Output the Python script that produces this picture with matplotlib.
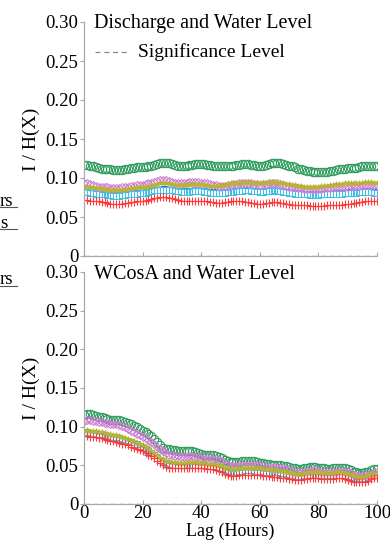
import matplotlib
matplotlib.use("Agg")
import matplotlib.pyplot as plt
from matplotlib.lines import Line2D
import numpy as np

plt.rcParams['font.family'] = ['Liberation Serif', 'DejaVu Serif']
plt.rcParams['mathtext.fontset'] = 'stix'

lag = list(range(0, 101))

# ---- Top panel: Discharge and Water Level ----
top_green = [0.117,0.117,0.116,0.115,0.114,0.113,0.112,0.112,0.111,0.111,0.110,0.110,0.110,0.110,0.111,0.112,0.113,0.113,0.114,0.114,
             0.114,0.114,0.115,0.116,0.117,0.118,0.119,0.119,0.119,0.119,0.118,0.117,0.116,0.116,0.116,0.116,0.117,0.117,0.118,0.118,
             0.118,0.118,0.117,0.117,0.116,0.115,0.115,0.115,0.115,0.115,0.116,0.116,0.117,0.117,0.118,0.118,0.118,0.117,0.117,0.116,
             0.116,0.116,0.117,0.118,0.119,0.119,0.119,0.119,0.118,0.117,0.116,0.115,0.114,0.112,0.111,0.110,0.109,0.109,0.108,0.108,
             0.108,0.108,0.108,0.108,0.109,0.109,0.110,0.111,0.112,0.112,0.113,0.113,0.113,0.113,0.114,0.115,0.116,0.116,0.116,0.116,0.115]
top_magenta = [0.093,0.093,0.092,0.091,0.090,0.089,0.089,0.088,0.088,0.087,0.087,0.087,0.087,0.088,0.088,0.089,0.090,0.090,0.091,0.091,
               0.091,0.092,0.093,0.094,0.095,0.096,0.097,0.097,0.097,0.096,0.095,0.094,0.094,0.093,0.094,0.094,0.095,0.095,0.095,0.095,
               0.094,0.094,0.093,0.092,0.091,0.091,0.090,0.090,0.090,0.091,0.091,0.092,0.092,0.093,0.093,0.093,0.093,0.093,0.092,0.092,
               0.091,0.092,0.092,0.093,0.093,0.093,0.093,0.092,0.091,0.090,0.089,0.089,0.088,0.087,0.087,0.086,0.086,0.086,0.086,0.086,
               0.086,0.086,0.087,0.087,0.087,0.088,0.088,0.088,0.089,0.089,0.089,0.090,0.090,0.090,0.090,0.091,0.091,0.091,0.091,0.091,0.091]
top_olive = [0.089,0.089,0.088,0.088,0.087,0.087,0.086,0.086,0.085,0.085,0.085,0.085,0.085,0.085,0.086,0.086,0.087,0.087,0.088,0.088,
             0.088,0.089,0.089,0.090,0.091,0.092,0.093,0.093,0.093,0.093,0.092,0.091,0.091,0.091,0.091,0.091,0.092,0.092,0.092,0.092,
             0.092,0.091,0.091,0.090,0.090,0.090,0.090,0.091,0.091,0.092,0.093,0.093,0.094,0.094,0.094,0.095,0.095,0.094,0.094,0.094,
             0.094,0.094,0.094,0.095,0.095,0.095,0.094,0.094,0.093,0.092,0.092,0.091,0.091,0.090,0.090,0.089,0.089,0.089,0.089,0.089,
             0.089,0.090,0.090,0.090,0.091,0.091,0.092,0.092,0.092,0.093,0.093,0.093,0.093,0.094,0.094,0.094,0.095,0.095,0.095,0.094,0.094]
top_blue = [0.085,0.085,0.084,0.084,0.083,0.083,0.082,0.082,0.081,0.081,0.081,0.081,0.081,0.081,0.082,0.082,0.083,0.083,0.084,0.084,
            0.084,0.085,0.085,0.086,0.087,0.088,0.088,0.089,0.089,0.088,0.088,0.087,0.086,0.086,0.086,0.086,0.086,0.087,0.087,0.087,
            0.087,0.086,0.086,0.085,0.085,0.085,0.084,0.084,0.085,0.085,0.085,0.086,0.086,0.087,0.087,0.087,0.087,0.087,0.086,0.086,
            0.086,0.086,0.086,0.087,0.087,0.087,0.087,0.086,0.086,0.085,0.085,0.084,0.084,0.083,0.083,0.083,0.082,0.082,0.082,0.082,
            0.082,0.082,0.083,0.083,0.083,0.083,0.084,0.084,0.084,0.084,0.085,0.085,0.085,0.085,0.085,0.086,0.086,0.086,0.086,0.085,0.085]
top_cyan = [0.082,0.082,0.081,0.081,0.080,0.080,0.079,0.079,0.078,0.078,0.077,0.077,0.077,0.078,0.078,0.079,0.079,0.080,0.080,0.081,
            0.081,0.081,0.082,0.083,0.084,0.084,0.085,0.085,0.085,0.085,0.084,0.083,0.083,0.082,0.082,0.082,0.082,0.083,0.083,0.083,
            0.083,0.082,0.082,0.081,0.081,0.081,0.081,0.081,0.081,0.082,0.082,0.082,0.083,0.083,0.083,0.084,0.084,0.083,0.083,0.083,
            0.082,0.082,0.083,0.083,0.083,0.084,0.083,0.083,0.082,0.082,0.081,0.081,0.080,0.080,0.079,0.079,0.079,0.078,0.078,0.078,
            0.078,0.079,0.079,0.079,0.079,0.080,0.080,0.080,0.080,0.081,0.081,0.081,0.081,0.081,0.082,0.082,0.082,0.082,0.082,0.081,0.081]
top_red = [0.072,0.072,0.071,0.071,0.070,0.070,0.069,0.069,0.068,0.067,0.067,0.067,0.067,0.067,0.068,0.068,0.069,0.069,0.070,0.070,
           0.070,0.071,0.072,0.073,0.074,0.075,0.076,0.076,0.076,0.075,0.074,0.073,0.072,0.071,0.071,0.071,0.071,0.071,0.071,0.071,
           0.070,0.070,0.070,0.069,0.069,0.068,0.068,0.068,0.069,0.069,0.070,0.070,0.070,0.070,0.070,0.069,0.069,0.068,0.068,0.067,
           0.067,0.067,0.068,0.068,0.069,0.069,0.069,0.068,0.068,0.067,0.067,0.066,0.066,0.066,0.065,0.065,0.065,0.064,0.064,0.064,
           0.064,0.064,0.064,0.065,0.065,0.065,0.066,0.066,0.066,0.067,0.067,0.067,0.068,0.068,0.069,0.069,0.070,0.070,0.071,0.071,0.070]

# ---- Bottom panel: WCosA and Water Level ----
bot_green = [0.115,0.116,0.116,0.115,0.114,0.113,0.112,0.111,0.110,0.109,0.108,0.108,0.108,0.107,0.106,0.105,0.103,0.101,0.099,0.097,
             0.095,0.093,0.091,0.088,0.084,0.080,0.076,0.073,0.071,0.071,0.070,0.070,0.069,0.069,0.069,0.069,0.068,0.068,0.067,0.066,
             0.065,0.064,0.064,0.063,0.063,0.062,0.061,0.059,0.057,0.055,0.054,0.054,0.054,0.054,0.055,0.055,0.055,0.056,0.055,0.054,
             0.053,0.053,0.052,0.052,0.051,0.051,0.050,0.050,0.049,0.049,0.048,0.047,0.046,0.045,0.045,0.046,0.047,0.048,0.048,0.048,
             0.047,0.046,0.046,0.045,0.045,0.046,0.046,0.047,0.047,0.046,0.045,0.044,0.042,0.041,0.040,0.040,0.041,0.042,0.044,0.045,0.045]
bot_magenta = [0.107,0.108,0.108,0.107,0.107,0.106,0.106,0.105,0.105,0.104,0.103,0.103,0.102,0.101,0.099,0.097,0.095,0.093,0.091,0.089,
               0.087,0.085,0.083,0.080,0.077,0.074,0.071,0.068,0.066,0.064,0.063,0.062,0.062,0.061,0.061,0.061,0.062,0.062,0.061,0.061,
               0.060,0.060,0.059,0.059,0.058,0.058,0.057,0.055,0.052,0.050,0.049,0.049,0.049,0.050,0.050,0.051,0.051,0.051,0.050,0.050,
               0.049,0.049,0.048,0.048,0.047,0.047,0.047,0.046,0.046,0.045,0.044,0.043,0.042,0.041,0.041,0.042,0.043,0.043,0.044,0.044,
               0.043,0.042,0.042,0.041,0.041,0.042,0.042,0.043,0.043,0.042,0.041,0.040,0.038,0.037,0.036,0.036,0.037,0.038,0.039,0.040,0.041]
bot_olive = [0.095,0.096,0.095,0.095,0.094,0.093,0.093,0.092,0.091,0.090,0.089,0.089,0.088,0.087,0.085,0.084,0.082,0.081,0.079,0.078,
             0.076,0.074,0.072,0.069,0.066,0.063,0.060,0.058,0.056,0.055,0.054,0.054,0.053,0.053,0.053,0.053,0.054,0.054,0.054,0.053,
             0.053,0.053,0.052,0.052,0.052,0.051,0.050,0.049,0.047,0.046,0.045,0.045,0.045,0.046,0.046,0.047,0.047,0.047,0.046,0.046,
             0.046,0.045,0.045,0.045,0.044,0.044,0.044,0.043,0.043,0.042,0.041,0.040,0.039,0.039,0.039,0.040,0.040,0.041,0.041,0.041,
             0.041,0.040,0.040,0.040,0.040,0.040,0.041,0.041,0.041,0.040,0.039,0.038,0.037,0.036,0.035,0.035,0.036,0.037,0.038,0.039,0.040]
bot_blue = [0.094,0.094,0.093,0.093,0.092,0.091,0.091,0.090,0.089,0.088,0.088,0.087,0.086,0.085,0.084,0.082,0.081,0.079,0.078,0.076,
            0.074,0.072,0.070,0.067,0.064,0.061,0.058,0.056,0.054,0.053,0.052,0.052,0.051,0.051,0.051,0.051,0.052,0.052,0.052,0.051,
            0.051,0.051,0.050,0.050,0.050,0.049,0.048,0.047,0.045,0.044,0.043,0.043,0.043,0.044,0.044,0.045,0.045,0.045,0.044,0.044,
            0.044,0.043,0.043,0.043,0.042,0.042,0.042,0.041,0.041,0.040,0.039,0.038,0.037,0.037,0.037,0.038,0.038,0.039,0.039,0.039,
            0.039,0.038,0.038,0.038,0.038,0.038,0.039,0.039,0.039,0.038,0.037,0.036,0.035,0.034,0.034,0.034,0.035,0.036,0.037,0.038,0.039]
bot_cyan = [0.093,0.093,0.092,0.092,0.091,0.090,0.090,0.089,0.088,0.087,0.087,0.086,0.085,0.084,0.083,0.081,0.080,0.078,0.077,0.075,
            0.073,0.071,0.069,0.066,0.063,0.060,0.057,0.055,0.053,0.052,0.051,0.051,0.050,0.050,0.050,0.050,0.051,0.051,0.051,0.050,
            0.050,0.050,0.049,0.049,0.049,0.048,0.047,0.046,0.044,0.043,0.042,0.042,0.042,0.043,0.043,0.044,0.044,0.044,0.043,0.043,
            0.043,0.042,0.042,0.042,0.041,0.041,0.041,0.040,0.040,0.039,0.038,0.037,0.036,0.036,0.036,0.037,0.037,0.038,0.038,0.038,
            0.038,0.037,0.037,0.037,0.037,0.037,0.038,0.038,0.038,0.037,0.036,0.035,0.034,0.033,0.033,0.033,0.034,0.035,0.036,0.037,0.038]
bot_red = [0.088,0.088,0.087,0.087,0.086,0.085,0.085,0.084,0.083,0.082,0.081,0.080,0.079,0.078,0.077,0.076,0.074,0.073,0.071,0.070,
           0.068,0.066,0.064,0.062,0.059,0.056,0.053,0.050,0.048,0.047,0.046,0.046,0.046,0.046,0.046,0.047,0.047,0.047,0.047,0.046,
           0.046,0.046,0.045,0.045,0.045,0.044,0.043,0.041,0.039,0.037,0.036,0.036,0.036,0.037,0.037,0.038,0.038,0.038,0.037,0.037,
           0.037,0.036,0.036,0.036,0.035,0.035,0.035,0.034,0.034,0.033,0.032,0.032,0.031,0.031,0.031,0.032,0.032,0.033,0.033,0.033,
           0.033,0.032,0.032,0.032,0.032,0.032,0.033,0.033,0.033,0.032,0.031,0.030,0.029,0.029,0.028,0.028,0.029,0.030,0.032,0.033,0.034]

significance = 0.0
panel_titles = ["Discharge and Water Level", "WCosA and Water Level"]
legend_label = "Significance Level"
ylabel = "I / H(X)"
xlabel = "Lag (Hours)"
yticks = [0, 0.05, 0.10, 0.15, 0.20, 0.25, 0.30]
yticklabels = ["0", "0.05", "0.10", "0.15", "0.20", "0.25", "0.30"]
xticks = [0, 20, 40, 60, 80, 100]

C_GREEN = '#2e9d5c'
C_MAG = '#d27ad6'
C_OLIVE = '#b7b530'
C_BLUE = '#3a5fc8'
C_CYAN = '#3cc0e6'
C_RED = '#ff3a3a'
SPINE = '#a8a8a8'

fig = plt.figure(figsize=(3.9, 5.45), dpi=100)
ax1 = fig.add_axes([84/390, 1-256/545, 293/390, (256-22)/545])
ax2 = fig.add_axes([84/390, 1-504/545, 293/390, (504-272)/545])

def draw(ax, g, m, o, b, c, r):
    ax.plot(lag, g, linestyle='none', marker='o', ms=6.0, mfc='none', mec=C_GREEN, mew=0.8)
    ax.plot(lag, b, linestyle='-', color=C_BLUE, lw=1.0)
    ax.plot(lag, c, linestyle='none', marker='s', ms=4.0, mfc='none', mec=C_CYAN, mew=0.75)
    ax.plot(lag, m, linestyle='none', marker='D', ms=3.8, mfc='none', mec=C_MAG, mew=0.75)
    ax.plot(lag, o, linestyle='none', marker='*', ms=4.4, mfc=C_OLIVE, mec=C_OLIVE, mew=0.4)
    ax.plot(lag, r, linestyle='none', marker='+', ms=5.5, mec=C_RED, mew=0.8)
    ax.axhline(significance, color='#777777', lw=0.9, ls=(0, (4, 3)), zorder=5)
    ax.set_xlim(0, 100)
    ax.set_ylim(0, 0.30)
    ax.set_yticks(yticks)
    ax.set_yticklabels(yticklabels)
    ax.set_xticks(xticks)
    for s in ['top', 'right']:
        ax.spines[s].set_visible(False)
    for s in ['left', 'bottom']:
        ax.spines[s].set_color(SPINE)
        ax.spines[s].set_linewidth(0.9)
    ax.tick_params(axis='y', direction='out', length=3, color=SPINE, labelsize=13.5, pad=1)
    ax.tick_params(axis='x', direction='in', length=3, color=SPINE, labelsize=13.5, pad=1)
    ax.set_ylabel(ylabel, fontsize=14, labelpad=4)

draw(ax1, top_green, top_magenta, top_olive, top_blue, top_cyan, top_red)
draw(ax2, bot_green, bot_magenta, bot_olive, bot_blue, bot_cyan, bot_red)
ax1.tick_params(axis='x', labelbottom=False)
ax2.set_xlabel(xlabel, fontsize=13, labelpad=0)

# panel titles and legend
ax1.text(0.035, 0.995, panel_titles[0], transform=ax1.transAxes, fontsize=14.5, va='center', ha='left')
ax2.text(0.035, 0.99, panel_titles[1], transform=ax2.transAxes, fontsize=14.5, va='center', ha='left')
ax1.plot([0.037, 0.15], [0.87, 0.87], transform=ax1.transAxes, color='#888888', lw=0.9, ls=(0, (4, 3)))
ax1.text(0.185, 0.87, legend_label, transform=ax1.transAxes, fontsize=14, va='center', ha='left')

# fragments of the neighbouring panel's legend at the left edge
frag = [("rs", 201, 207), ("s", 223, 229), ("rs", 280, 286)]
for t, yc, yu in frag:
    fig.text(0.0, 1 - yc/545, t, fontsize=13.5, va='center', ha='left')
    fig.add_artist(Line2D([0, 17/390], [1 - yu/545, 1 - yu/545], color='#555555', lw=0.8))

fig.savefig("out.png", dpi=100)
